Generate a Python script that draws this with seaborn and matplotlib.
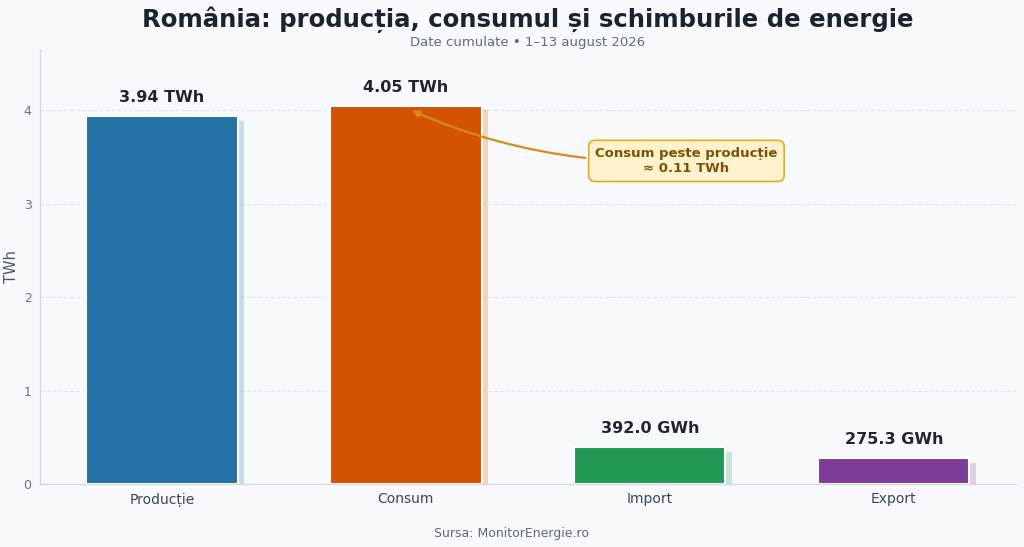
import numpy as np
import pandas as pd
import matplotlib
matplotlib.use("Agg")
import matplotlib.pyplot as plt
import seaborn as sns

# date (TWh)
categories = ["Producție", "Consum", "Import", "Export"]
values_twh = [3.94, 4.05, 0.392, 0.2753]
value_labels = ["3.94 TWh", "4.05 TWh", "392.0 GWh", "275.3 GWh"]
colors = ["#2471a3", "#d35400", "#229954", "#7d3c98"]
shadow_drop = 0.05

bg = "#f7f9fc"
sns.set_theme(style="white")
plt.rcParams["font.family"] = ["DejaVu Sans"]

df = pd.DataFrame({"cat": categories, "val": values_twh})

fig = plt.figure(figsize=(10.24, 5.47), dpi=100, facecolor=bg)
ax = fig.add_axes([0.039, 0.115, 0.953, 0.794])
ax.set_facecolor(bg)

# umbra barelor
pos = np.arange(len(categories))
ax.bar(pos + 0.025, np.array(values_twh) - shadow_drop, width=0.62,
       color=colors, alpha=0.22, zorder=1, linewidth=0)

sns.barplot(data=df, x="cat", y="val", hue="cat", palette=colors, legend=False,
            width=0.62, edgecolor="white", linewidth=1.5, saturation=1,
            zorder=2, ax=ax)

for i, (v, lab) in enumerate(zip(values_twh, value_labels)):
    ax.text(i, v + 0.2, lab, ha="center", va="center", fontsize=11.5,
            fontweight="bold", color="#1f2430", zorder=4)

ax.set_xlim(-0.5, 3.5)
ax.set_ylim(0, 4.65)
ax.set_yticks([0, 1, 2, 3, 4])
ax.yaxis.grid(True, linestyle="--", color="#e3e6ec", linewidth=0.8, zorder=0)
ax.set_axisbelow(True)

for s in ["top", "right"]:
    ax.spines[s].set_visible(False)
for s in ["left", "bottom"]:
    ax.spines[s].set_color("#d5d9e0")
    ax.spines[s].set_linewidth(1)

ax.tick_params(axis="y", labelsize=9, colors="#6b7280", length=3, color="#9aa1ab", pad=3)
ax.tick_params(axis="x", labelsize=10, labelcolor="#3b4556", length=3, color="#9aa1ab", pad=3)
ax.set_xlabel("")
ax.set_ylabel("TWh", fontsize=10.5, color="#4b5563", labelpad=3)

ax.annotate("Consum peste producție\n≈ 0.11 TWh", xy=(1.015, 4.01), xytext=(2.15, 3.46),
            ha="center", va="center", fontsize=9.5, fontweight="bold", color="#7a5206",
            bbox=dict(boxstyle="round,pad=0.5", facecolor="#fff2cc", edgecolor="#e3ab1a", linewidth=1.2),
            arrowprops=dict(arrowstyle="-|>", color="#d98c14", linewidth=1.6,
                            connectionstyle="arc3,rad=-0.12", mutation_scale=10),
            zorder=5)

fig.text(0.5156, 0.964, "România: producția, consumul și schimburile de energie",
         ha="center", va="center", fontsize=17.6, fontweight="bold", color="#1c2330")
fig.text(0.5156, 0.923, "Date cumulate • 1–13 august 2026", ha="center", va="center",
         fontsize=9.5, color="#5f6b7a")
fig.text(0.5, 0.025, "Sursa: MonitorEnergie.ro", ha="center", va="center",
         fontsize=9, color="#5f6b7a")

fig.savefig("out.png", dpi=100, facecolor=bg)
